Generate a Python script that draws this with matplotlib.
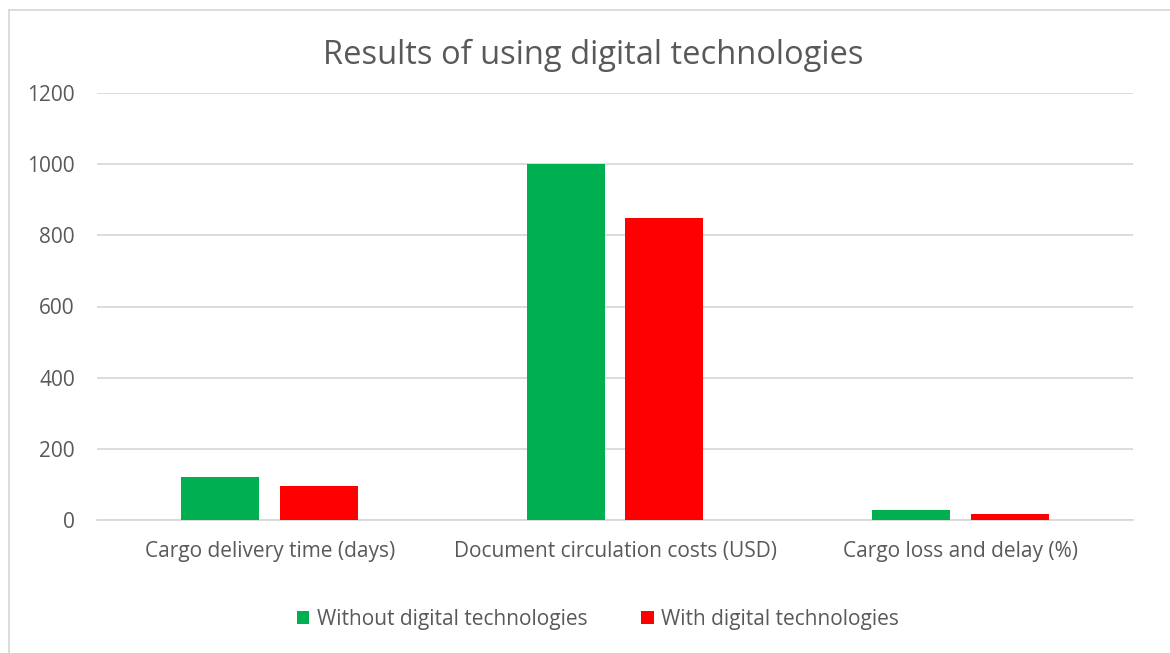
import matplotlib
matplotlib.use("Agg")
import matplotlib.pyplot as plt
import numpy as np

# data
categories = ["Cargo delivery time (days)", "Document circulation costs (USD)", "Cargo loss and delay (%)"]
without_digital = [120, 1000, 28]
with_digital = [95, 850, 18]
series_names = ["Without digital technologies", "With digital technologies"]
yticks = [0, 200, 400, 600, 800, 1000, 1200]

plt.rcParams['font.family'] = ['Open Sans', 'DejaVu Sans']
txt = "#595959"
grid = "#d9d9d9"

fig = plt.figure(figsize=(11.7, 6.53), dpi=100)
W, H = 1170, 653
# plot area in pixels: x 97..1133, y 93..520
ax = fig.add_axes([97 / W, 1 - 520 / H, (1133 - 97) / W, (520 - 93) / H])

x = np.arange(len(categories))
bw = 0.226
off = 0.143
ax.bar(x - off, without_digital, bw, color="#00b050", label=series_names[0], zorder=3)
ax.bar(x + off, with_digital, bw, color="#ff0000", label=series_names[1], zorder=3)

ax.set_xlim(-0.5, len(categories) - 0.5)
ax.set_ylim(0, 1200)
ax.set_yticks(yticks)
ax.set_yticklabels([str(v) for v in yticks])
ax.set_xticks(x)
ax.set_xticklabels(categories)
ax.yaxis.grid(True, color=grid, linewidth=1.3, zorder=0)
ax.set_axisbelow(True)
for s in ["top", "right", "left"]:
    ax.spines[s].set_visible(False)
ax.spines["bottom"].set_color(grid)
ax.spines["bottom"].set_linewidth(1.3)
ax.tick_params(axis="both", length=0, labelsize=15, colors=txt)
ax.tick_params(axis="y", pad=16)
ax.tick_params(axis="x", pad=15)

fig.text(593 / W, 1 - 55 / H, "Results of using digital technologies", ha="center", va="center",
         fontsize=23.5, color=txt)

leg = fig.legend(loc="center", bbox_to_anchor=(598 / W, 1 - 619 / H), ncol=2, frameon=False,
                 fontsize=15, handlelength=0.6, handleheight=0.6, handletextpad=0.35,
                 columnspacing=2.6)
for t in leg.get_texts():
    t.set_color(txt)

# chart border (only top and left visible in the reference)
fig.add_artist(plt.Line2D([8.5 / W, 1], [1 - 9.5 / H, 1 - 9.5 / H], color=grid, linewidth=1.3,
                          transform=fig.transFigure))
fig.add_artist(plt.Line2D([8.5 / W, 8.5 / W], [0, 1 - 9.5 / H], color=grid, linewidth=1.3,
                          transform=fig.transFigure))

fig.savefig("out.png", dpi=100)
